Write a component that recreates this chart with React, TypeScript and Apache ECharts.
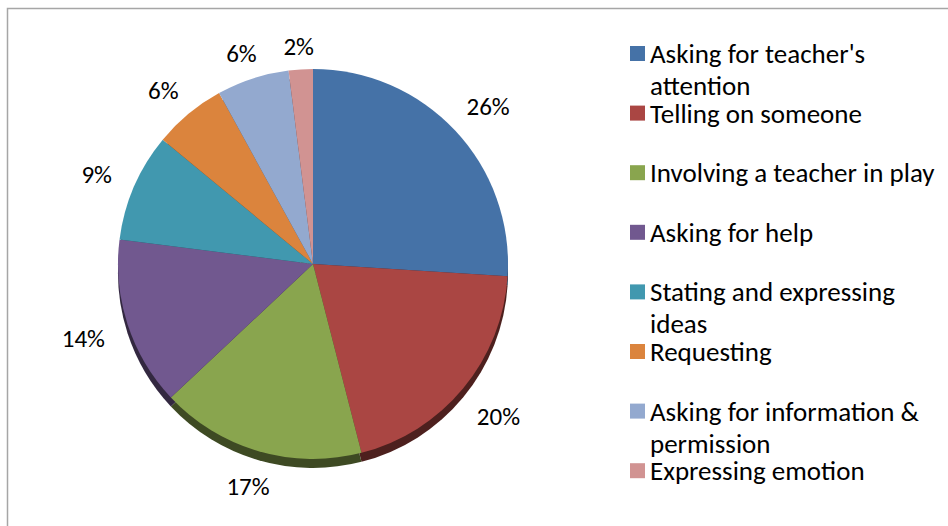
import React, { useEffect, useRef } from "react";
import * as echarts from "echarts";

const categories = [
  "Asking for teacher's attention",
  "Telling on someone",
  "Involving a teacher in play",
  "Asking for help",
  "Stating and expressing ideas",
  "Requesting",
  "Asking for information & permission",
  "Expressing emotion",
];
const values = [26, 20, 17, 14, 9, 6, 6, 2];
const colors = ["#4572A7", "#AA4643", "#89A54E", "#71588F", "#4198AF", "#DB843D", "#93A9CF", "#D19392"];

const FONT = "Carlito, Lato, 'Open Sans', sans-serif";
const LEGEND_SIZE = 27;
const LABEL_SIZE = 25;
const LINE_H = 32;
const CX = 313;
const CY = 264;
const R = 195;
const DEPTH = 9;

function darken(hex: string, k: number) {
  const n = parseInt(hex.slice(1), 16);
  const r = Math.round(((n >> 16) & 255) * k);
  const g = Math.round(((n >> 8) & 255) * k);
  const b = Math.round((n & 255) * k);
  return `rgb(${r},${g},${b})`;
}

let measureCtx: CanvasRenderingContext2D | null = null;
function measure(text: string) {
  if (!measureCtx) {
    const c = document.createElement("canvas");
    measureCtx = c.getContext("2d");
  }
  measureCtx!.font = `${LEGEND_SIZE}px ${FONT}`;
  return measureCtx!.measureText(text).width;
}

function wrap(text: string, maxW: number) {
  const words = text.split(" ");
  const lines: string[] = [];
  let cur = "";
  for (const w of words) {
    const t = cur ? cur + " " + w : w;
    if (cur && measure(t) > maxW) {
      lines.push(cur);
      cur = w;
    } else cur = t;
  }
  if (cur) lines.push(cur);
  return lines;
}

export default function App() {
  const ref = useRef<HTMLDivElement>(null);
  useEffect(() => {
    if (!ref.current) return;
    const chart = echarts.init(ref.current, null, { renderer: "svg" });
    const total = values.reduce((a, b) => a + b, 0);
    const cum: number[] = [];
    values.reduce((acc, v, i) => {
      cum[i] = acc + v / 2;
      return acc + v;
    }, 0);

    const data = categories.map((name, i) => ({ name, value: values[i] }));

    chart.setOption({
      animation: false,
      color: colors,
      graphic: [
        {
          type: "rect",
          shape: { x: 7.5, y: 8.5, width: 980, height: 560 },
          style: { fill: "none", stroke: "#a6a6a6", lineWidth: 1.5 },
          silent: true,
        },
      ],
      legend: {
        orient: "vertical",
        left: 630,
        top: 8,
        height: 1200,
        padding: 0,
        itemWidth: 15,
        itemHeight: 15,
        itemGap: -31.4,
        icon: "rect",
        selectedMode: false,
        data: categories,
        formatter: (name: string) => {
          const lines = wrap(name, 295);
          const l2 = lines[1] ?? " ";
          return `{s| }\n{a|${lines[0]}}\n{a|${l2}}`;
        },
        textStyle: {
          fontFamily: FONT,
          fontSize: LEGEND_SIZE,
          color: "#000",
          rich: {
            s: { lineHeight: LINE_H, fontSize: LEGEND_SIZE, fontFamily: FONT },
            a: { lineHeight: LINE_H, fontSize: LEGEND_SIZE, fontFamily: FONT, color: "#000" },
          },
        },
      },
      series: [
        {
          type: "pie",
          name: "main",
          center: [CX, CY],
          radius: R,
          startAngle: 90,
          clockwise: true,
          z: 3,
          avoidLabelOverlap: false,
          data: data.map((d, i) => ({ ...d, itemStyle: { color: colors[i] } })),
          itemStyle: { borderWidth: 0 },
          emphasis: { disabled: true },
          label: {
            show: true,
            position: "outside",
            formatter: "{d}%",
            fontFamily: FONT,
            fontSize: LABEL_SIZE,
            color: "#000",
          },
          labelLine: { show: false },
          labelLayout: (p: any) => {
            const theta = (cum[p.dataIndex] / total) * Math.PI * 2;
            const dx = Math.sin(theta);
            const dy = -Math.cos(theta);
            const w = p.labelRect.width;
            const h = p.labelRect.height * 0.75;
            const ext = Math.abs(dx) * (w / 2) + Math.abs(dy) * (h / 2);
            const rx = R + 5 + 18 + ext;
            const ry = R - 5 + 18 + ext + (dy > 0 ? DEPTH : 0);
            return { x: CX + rx * dx, y: CY + ry * dy, align: "center", verticalAlign: "middle" };
          },
        },
        {
          type: "pie",
          name: "rim",
          center: [CX, CY + DEPTH],
          radius: R,
          startAngle: 90,
          clockwise: true,
          z: 1,
          silent: true,
          data: data.map((d, i) => ({ ...d, itemStyle: { color: darken(colors[i], 0.45) } })),
          label: { show: false },
          labelLine: { show: false },
          emphasis: { disabled: true },
        },
      ],
    });
    return () => chart.dispose();
  }, []);
  return (
    <div
      ref={ref}
      style={{ position: "fixed", left: 0, top: 0, width: 948, height: 526, background: "#fff" }}
    />
  );
}
